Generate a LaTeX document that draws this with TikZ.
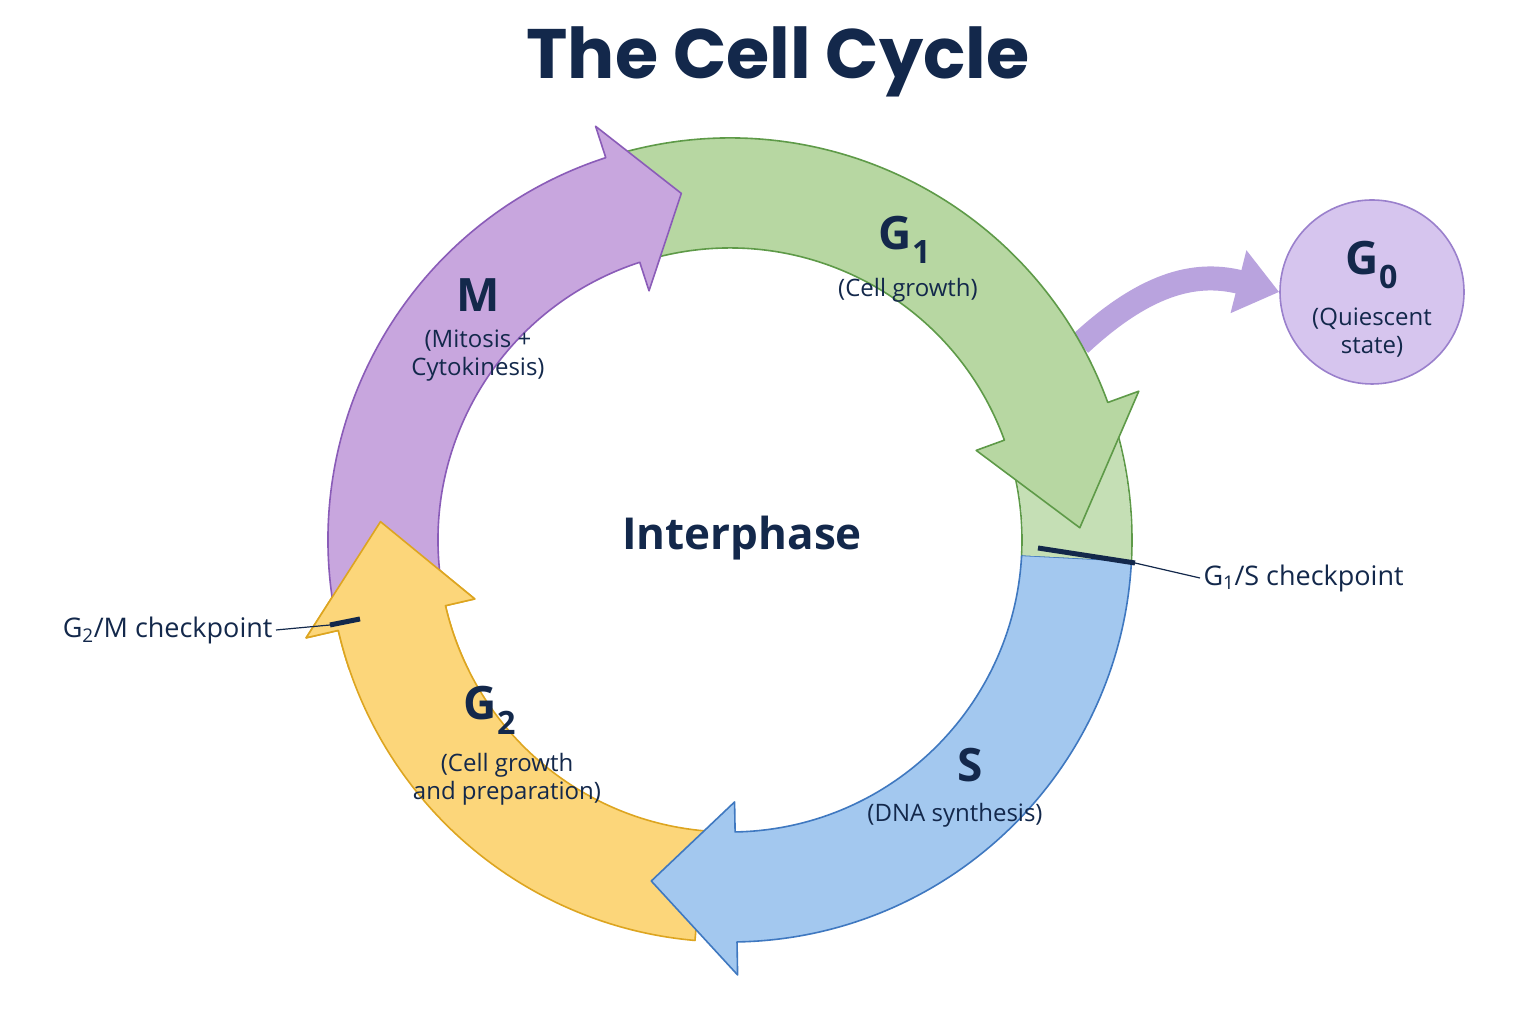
\documentclass[tikz,border=0pt]{standalone}
\usepackage{fontspec}
\setmainfont{Open Sans}
\newfontfamily\titlefont{Poppins}
\usetikzlibrary{arrows.meta}
\definecolor{navy}{HTML}{13284B}
\definecolor{gfill}{HTML}{B7D7A2}\definecolor{gline}{HTML}{5E9A48}
\definecolor{bfill}{HTML}{A3C8EF}\definecolor{bline}{HTML}{3F78C0}
\definecolor{yfill}{HTML}{FCD67A}\definecolor{yline}{HTML}{DDA520}
\definecolor{pfill}{HTML}{C8A6DE}\definecolor{pline}{HTML}{8A5CB8}
\definecolor{g0fill}{HTML}{D6C5EE}\definecolor{g0line}{HTML}{9A80CC}
\definecolor{g0arrow}{HTML}{B9A3DE}
\tikzset{
 phase/.style={font=\fontsize{46}{50}\selectfont\bfseries, text=navy},
 sub/.style={font=\fontsize{24}{28}\selectfont, text=navy, align=center},
 cklabel/.style={font=\fontsize{27}{30}\selectfont, text=navy},
 ckmark/.style={line width=5pt, draw=navy},
 leader/.style={line width=1.2pt, draw=navy},
}
\newcommand{\ringarrow}[5]{% a0, ab, at, fill, line
 \path[fill=#4, draw=#5, line width=1.6pt, line join=round]
  (#1:402) arc[start angle=#1, end angle=#2, radius=402]
  -- (#2:435) -- (#3:350) -- (#2:262) -- (#2:292)
  arc[start angle=#2, end angle=#1, radius=292] -- cycle;}
\begin{document}
\begin{tikzpicture}[x=1pt,y=1pt]
\useasboundingbox (0,0) rectangle (1536,1024);
\fill[white] (0,0) rectangle (1536,1024);
\node[font=\fontsize{70}{76}\selectfont\titlefont\bfseries, text=navy] (title) at (778,962) {The Cell Cycle};
% G0 branch
\node[circle, minimum size=184pt, fill=g0fill, draw=g0line, line width=1.6pt] (g0c) at (1372,732) {};
\coordinate (g0start) at (1080,680);
\draw[line width=24pt, draw=g0arrow, -{Triangle[length=42pt,width=62pt]}]
 (g0start) .. controls (1150,745) and (1200,752) .. (g0c.west);
\begin{scope}[shift={(730,484)}]
 \ringarrow{-95}{-167}{-183}{yfill}{yline}
 \ringarrow{-3}{-89}{-103}{bfill}{bline}
 \path[fill=gfill!80] (20:401) arc[start angle=20, end angle=-3, radius=401]
   -- (-3:293) arc[start angle=-3, end angle=20, radius=293] -- cycle;
 \draw[gline, line width=1.6pt] (20:402) arc[start angle=20, end angle=-3, radius=402];
 \draw[gline, line width=1.6pt] (20:292) arc[start angle=20, end angle=-3, radius=292];
 \ringarrow{105}{20}{2}{gfill}{gline}
 \ringarrow{-170}{-252}{-262}{pfill}{pline}
 \begin{scope}
  \clip (-470,-130) rectangle (-150,130);
  \ringarrow{-95}{-167}{-183}{yfill}{yline}
 \end{scope}
\end{scope}
\node[phase] (g0t) at (1372,759) {G\textsubscript{0}};
\node[sub] (g0s) at (1372,691) {(Quiescent\\state)};
\node[phase] (g1t) at (905,784) {G\textsubscript{1}};
\node[sub] (g1s) at (908,734) {(Cell growth)};
\node[phase] (st) at (970,259) {S};
\node[sub] (ss) at (955,209) {(DNA synthesis)};
\node[phase] (g2t) at (490,314) {G\textsubscript{2}};
\node[sub] (g2s) at (507,245) {(Cell growth\\and preparation)};
\node[phase] (mt) at (478,729) {M};
\node[sub] (ms) at (478,668) {(Mitosis +\\Cytokinesis)};
\node[font=\fontsize{44}{48}\selectfont\bfseries, text=navy] (inter) at (742,486) {Interphase};
% checkpoints
\coordinate (c1a) at (1038,476); \coordinate (c1b) at (1135,461);
\draw[ckmark] (c1a) -- (c1b);
\node[cklabel, anchor=west] (c1t) at (1200,446) {G\textsubscript{1}/S checkpoint};
\draw[leader] (c1b) -- (c1t.west);
\coordinate (c2a) at (330,399); \coordinate (c2b) at (360,405);
\draw[ckmark] (c2a) -- (c2b);
\node[cklabel, anchor=east] (c2t) at (276,394) {G\textsubscript{2}/M checkpoint};
\draw[leader] (c2t.east) -- (c2a);
\end{tikzpicture}
\end{document}
